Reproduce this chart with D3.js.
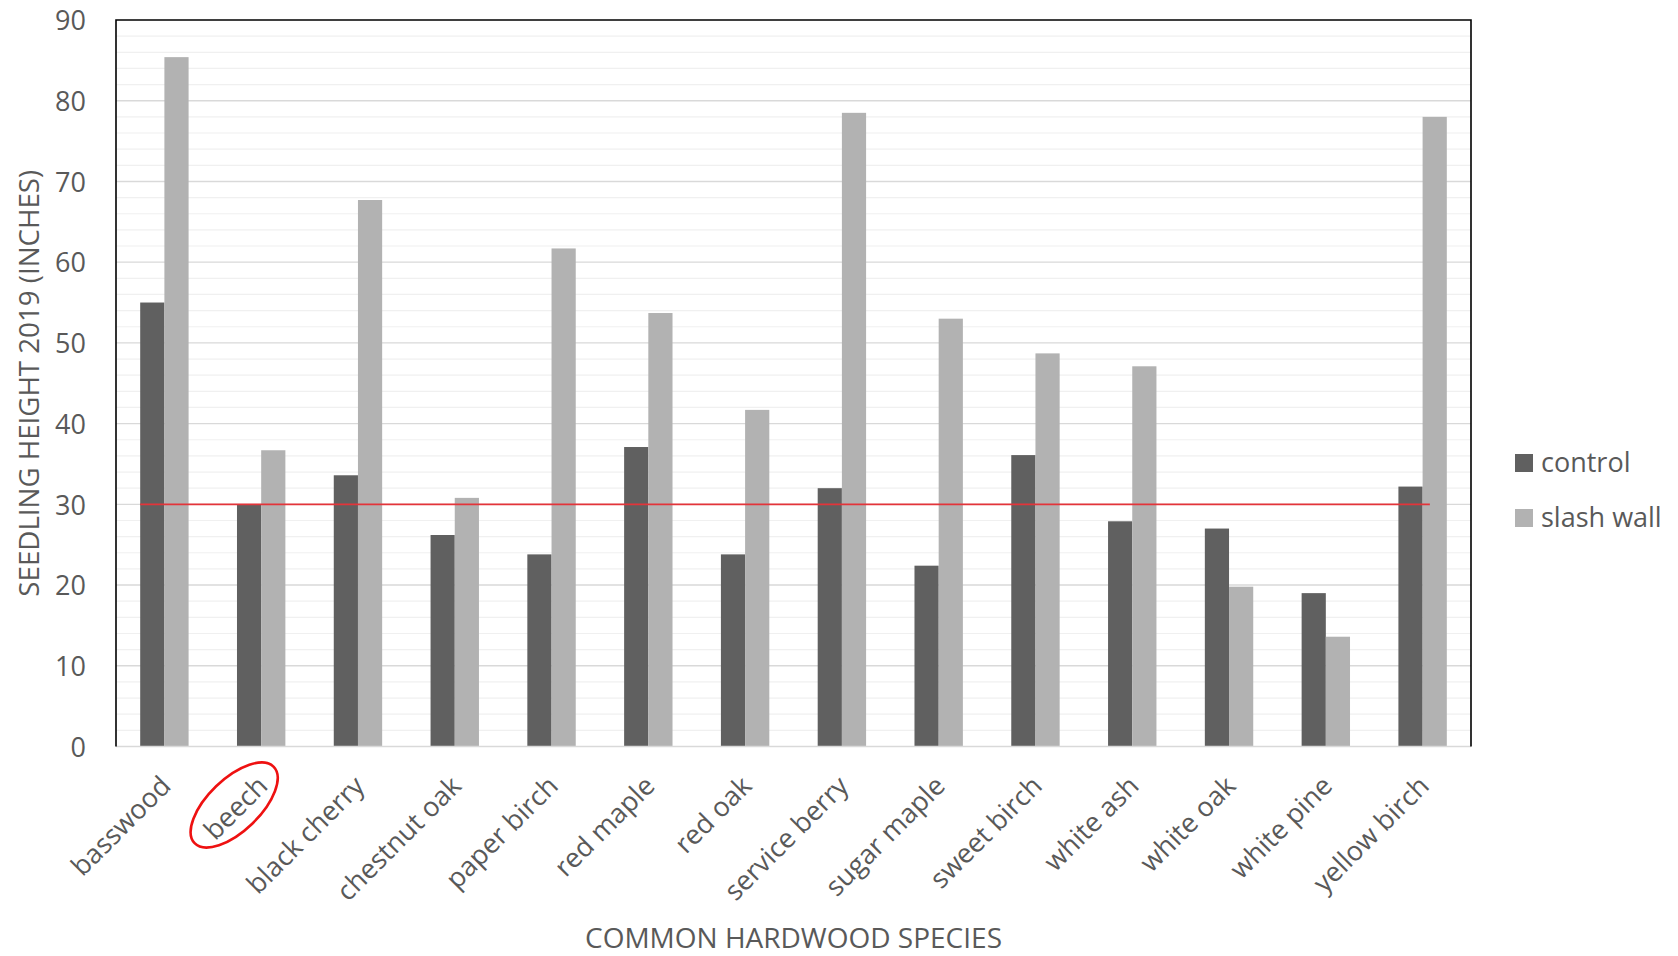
<!DOCTYPE html>
<html>
<head>
<meta charset="utf-8">
<script src="https://cdn.jsdelivr.net/npm/d3@7"></script>
<style>
  html, body { margin: 0; padding: 0; background: #ffffff; }
  svg { display: block; font-family: "Open Sans", "Noto Sans", sans-serif; }
</style>
</head>
<body>
<svg id="chart" width="1678" height="956"></svg>
<script>
// Seedling heights by species, 2019 (inches)
const species = ["basswood", "beech", "black cherry", "chestnut oak", "paper birch",
  "red maple", "red oak", "service berry", "sugar maple", "sweet birch",
  "white ash", "white oak", "white pine", "yellow birch"];
const controlHeights   = [55.0, 30.0, 33.6, 26.2, 23.8, 37.1, 23.8, 32.0, 22.4, 36.1, 27.9, 27.0, 19.0, 32.2];
const slashWallHeights = [85.4, 36.7, 67.7, 30.8, 61.7, 53.7, 41.7, 78.5, 53.0, 48.7, 47.1, 19.8, 13.6, 78.0];
const seriesNames  = ["control", "slash wall"];
const seriesColors = ["#606060", "#b2b2b2"];
const yTicks = [0, 10, 20, 30, 40, 50, 60, 70, 80, 90];
const referenceHeight = 30;
const highlighted = "beech";

const rows = species.map((s, i) => ({ species: s, values: [controlHeights[i], slashWallHeights[i]] }));

const svg = d3.select("#chart");
const plot = { left: 116, right: 1471, top: 20, bottom: 746.5 };
const textColor = "#595959";

const x = d3.scaleBand().domain(species).range([plot.left, plot.right])
  .paddingInner(0.5).paddingOuter(0.25);
const xs = d3.scaleBand().domain(seriesNames).range([0, x.bandwidth()]);
const y = d3.scaleLinear().domain([0, 90]).range([plot.bottom, plot.top]);

// minor gridlines every 2 inches
svg.append("g").selectAll("line")
  .data(d3.range(2, 90, 2).filter(v => v % 10 !== 0))
  .join("line")
  .attr("x1", plot.left).attr("x2", plot.right)
  .attr("y1", d => y(d)).attr("y2", d => y(d))
  .attr("stroke", "#f0f0f0").attr("stroke-width", 1.2);

// major gridlines
svg.append("g").selectAll("line")
  .data(yTicks.filter(v => v > 0 && v < 90))
  .join("line")
  .attr("x1", plot.left).attr("x2", plot.right)
  .attr("y1", d => y(d)).attr("y2", d => y(d))
  .attr("stroke", "#d9d9d9").attr("stroke-width", 1.4);

// bars
const groups = svg.append("g").selectAll("g")
  .data(rows).join("g")
  .attr("transform", d => `translate(${x(d.species)},0)`);
groups.selectAll("rect")
  .data(d => d.values.map((v, k) => ({ key: seriesNames[k], value: v, k })))
  .join("rect")
  .attr("x", d => xs(d.key))
  .attr("width", xs.bandwidth())
  .attr("y", d => y(d.value))
  .attr("height", d => y(0) - y(d.value))
  .attr("fill", d => seriesColors[d.k]);

// bottom axis line
svg.append("line")
  .attr("x1", plot.left).attr("x2", plot.right)
  .attr("y1", y(0)).attr("y2", y(0))
  .attr("stroke", "#d9d9d9").attr("stroke-width", 1.5);

// plot frame (left, top, right)
svg.append("path")
  .attr("d", `M${plot.left},${y(0)}V${plot.top}H${plot.right}V${y(0)}`)
  .attr("fill", "none").attr("stroke", "#000").attr("stroke-width", 1.6);

// reference line at 30 inches
svg.append("line")
  .attr("x1", x(species[0]))
  .attr("x2", x(species[species.length - 1]) + x.bandwidth() * 0.65)
  .attr("y1", y(referenceHeight)).attr("y2", y(referenceHeight))
  .attr("stroke", "#e3343a").attr("stroke-width", 1.6);

// y axis
const yAxis = d3.axisLeft(y).tickValues(yTicks).tickSize(0).tickPadding(0);
const yg = svg.append("g").attr("transform", `translate(${plot.left - 30},0)`).call(yAxis);
yg.select(".domain").remove();
yg.selectAll("text").attr("fill", textColor).attr("font-size", 27)
  .attr("font-family", "'Open Sans', sans-serif").attr("dy", "0.36em");

// x axis labels, rotated
const xAxis = d3.axisBottom(x).tickSize(0).tickPadding(0);
const xg = svg.append("g").attr("transform", `translate(0,${plot.bottom})`).call(xAxis);
xg.select(".domain").remove();
xg.selectAll(".tick text")
  .attr("fill", textColor).attr("font-size", 27)
  .attr("font-family", "'Open Sans', sans-serif")
  .attr("text-anchor", "end")
  .attr("transform", "translate(-6,27) rotate(-45)")
  .attr("x", 0).attr("y", 0).attr("dy", "0.74em");

// highlight ring around a label
const hx = x(highlighted) + x.bandwidth() / 2;
svg.append("ellipse")
  .attr("transform", `translate(${hx - 27},${plot.bottom + 58.5}) rotate(-44)`)
  .attr("rx", 55).attr("ry", 26)
  .attr("fill", "none").attr("stroke", "#ee1111").attr("stroke-width", 2.6);

// axis titles
svg.append("text")
  .attr("transform", `translate(29,${(plot.top + plot.bottom) / 2}) rotate(-90)`)
  .attr("text-anchor", "middle").attr("dy", "0.35em")
  .attr("fill", textColor).attr("font-size", 27.7)
  .text("SEEDLING HEIGHT 2019 (INCHES)");
svg.append("text")
  .attr("x", (plot.left + plot.right) / 2).attr("y", 948)
  .attr("text-anchor", "middle")
  .attr("fill", textColor).attr("font-size", 28)
  .text("COMMON HARDWOOD SPECIES");

// legend
const legend = svg.append("g").attr("transform", "translate(1515,454)");
const items = legend.selectAll("g").data(seriesNames).join("g")
  .attr("transform", (d, i) => `translate(0,${i * 55})`);
items.append("rect").attr("width", 18).attr("height", 18)
  .attr("fill", (d, i) => seriesColors[i]);
items.append("text").attr("x", 26).attr("y", 17.5)
  .attr("fill", textColor).attr("font-size", 27)
  .text(d => d);
</script>
</body>
</html>
